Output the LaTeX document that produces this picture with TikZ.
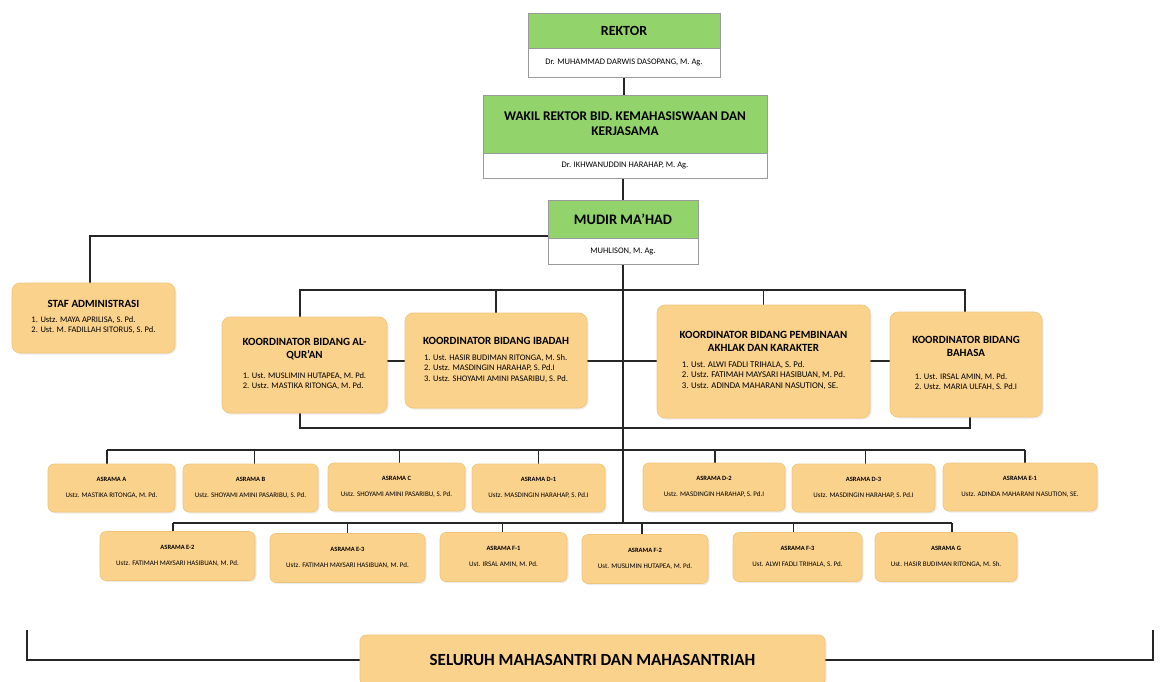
\documentclass[tikz,border=0pt]{standalone}
\usepackage{fontspec}
\setmainfont{Carlito}
\usetikzlibrary{shadows}
\definecolor{hdrgreen}{HTML}{92D36C}
\definecolor{boxorange}{HTML}{FAD28C}
\definecolor{boxedge}{HTML}{F1C579}
\definecolor{linecol}{HTML}{262626}
\definecolor{edgegray}{HTML}{9A9A9A}
\newcommand\fsz[1]{\fontsize{#1}{1.22\dimexpr#1pt\relax}\selectfont}
\pgfdeclarelayer{bottom}
\pgfdeclarelayer{background}
\pgfsetlayers{bottom,background,main}
\begin{document}
\begin{tikzpicture}[x=1pt,y=-1pt,
  greenhead/.style={draw=edgegray, line width=0.8pt, fill=hdrgreen, inner sep=2pt, align=center, font=\bfseries},
  whitesub/.style={draw=edgegray, line width=0.8pt, fill=white, inner sep=2pt, align=center},
  obox/.style={draw=boxedge, line width=0.6pt, fill=boxorange, rounded corners=8pt, inner sep=3pt, align=center,
     drop shadow={opacity=0.15, shadow xshift=1.5pt, shadow yshift=-1.5pt}},
  abox/.style={obox, rounded corners=6pt, minimum height=48pt},
  bbox/.style={obox, rounded corners=6pt, minimum height=49pt},
  conn/.style={draw=linecol, line width=1.6pt},
]
\useasboundingbox (0,0) rectangle (1162,682);
\begin{pgfonlayer}{bottom}
\fill[white] (0,0) rectangle (1162,682);
\end{pgfonlayer}

% top chain
\node[greenhead, minimum width=192pt, minimum height=35pt] (rektorG) at (624,30.5) {\fsz{14}REKTOR};
\node[whitesub, minimum width=192pt, minimum height=29pt] (rektorW) at (624,62.5) {\fsz{8.5}Dr. MUHAMMAD DARWIS DASOPANG, M. Ag.};
\node[greenhead, minimum width=284pt, minimum height=58pt] (wakilG) at (625,124) {\fsz{13.3}WAKIL REKTOR BID. KEMAHASISWAAN DAN\\[3pt]\fsz{13.3}KERJASAMA};
\node[whitesub, minimum width=284pt, minimum height=25pt] (wakilW) at (625,165.5) {\fsz{8.5}Dr. IKHWANUDDIN HARAHAP, M. Ag.};
\node[greenhead, minimum width=150pt, minimum height=38pt] (mudirG) at (623,219) {\fsz{14.5}MUDIR MA'HAD};
\node[whitesub, minimum width=150pt, minimum height=26pt] (mudirW) at (623,251) {\fsz{8.5}MUHLISON, M. Ag.};

% staf
\node[obox, minimum width=163pt, minimum height=70pt] (staf) at (93.5,318)
  {{\bfseries\fsz{11}STAF ADMINISTRASI}\\[6pt]
   \fsz{8.5}\begin{tabular}{@{}l@{}}1. Ustz. MAYA APRILISA, S. Pd.\\2. Ust. M. FADILLAH SITORUS, S. Pd.\end{tabular}};

% koordinator
\node[obox, minimum width=165pt, minimum height=96pt] (quran) at (304.5,365)
  {{\bfseries\fsz{11}KOORDINATOR BIDANG AL-}\\[1pt]{\bfseries\fsz{11}QUR'AN}\\[10pt]
   \fsz{8.5}\begin{tabular}{@{}l@{}}1. Ust. MUSLIMIN HUTAPEA, M. Pd.\\2. Ustz. MASTIKA RITONGA, M. Pd.\end{tabular}};
\node[obox, minimum width=182pt, minimum height=95pt] (ibadah) at (496,360.5)
  {{\bfseries\fsz{11}KOORDINATOR BIDANG IBADAH}\\[8pt]
   \fsz{8.5}\begin{tabular}{@{}l@{}}1. Ust. HASIR BUDIMAN RITONGA, M. Sh.\\2. Ustz. MASDINGIN HARAHAP, S. Pd.I\\3. Ustz. SHOYAMI AMINI PASARIBU, S. Pd.\end{tabular}};
\node[obox, minimum width=213pt, minimum height=113pt] (akhlak) at (763.5,361.5)
  {{\bfseries\fsz{11}KOORDINATOR BIDANG PEMBINAAN}\\[1pt]{\bfseries\fsz{11}AKHLAK DAN KARAKTER}\\[7pt]
   \fsz{8.8}\begin{tabular}{@{}l@{}}1. Ust. ALWI FADLI TRIHALA, S. Pd.\\2. Ustz. FATIMAH MAYSARI HASIBUAN, M. Pd.\\3. Ustz. ADINDA MAHARANI NASUTION, SE.\end{tabular}};
\node[obox, minimum width=152pt, minimum height=105pt] (bahasa) at (966,364.5)
  {{\bfseries\fsz{11}KOORDINATOR BIDANG}\\[1pt]{\bfseries\fsz{11}BAHASA}\\[14pt]
   \fsz{8.5}\begin{tabular}{@{}l@{}}1. Ust. IRSAL AMIN, M. Pd.\\2. Ustz. MARIA ULFAH, S. Pd.I\end{tabular}};

% asrama row 1
\node[abox, minimum width=127pt] (aA) at (111.5,488) {{\bfseries\fsz{6.5}ASRAMA A}\\[4pt]\fsz{7}Ustz. MASTIKA RITONGA, M. Pd.};
\node[abox, minimum width=135pt] (aB) at (250.5,488) {{\bfseries\fsz{6.5}ASRAMA B}\\[4pt]\fsz{7}Ustz. SHOYAMI AMINI PASARIBU, S. Pd.};
\node[abox, minimum width=137pt] (aC) at (396.5,487) {{\bfseries\fsz{6.5}ASRAMA C}\\[4pt]\fsz{7}Ustz. SHOYAMI AMINI PASARIBU, S. Pd.};
\node[abox, minimum width=133pt] (aD1) at (538.5,488) {{\bfseries\fsz{6.5}ASRAMA D-1}\\[4pt]\fsz{7}Ustz. MASDINGIN HARAHAP, S. Pd.I};
\node[abox, minimum width=142pt] (aD2) at (714,487) {{\bfseries\fsz{6.5}ASRAMA D-2}\\[4pt]\fsz{7}Ustz. MASDINGIN HARAHAP, S. Pd.I};
\node[abox, minimum width=143pt] (aD3) at (863.5,488) {{\bfseries\fsz{6.5}ASRAMA D-3}\\[4pt]\fsz{7}Ustz. MASDINGIN HARAHAP, S. Pd.I};
\node[abox, minimum width=154pt] (aE1) at (1020,487) {{\bfseries\fsz{6.5}ASRAMA E-1}\\[4pt]\fsz{7}Ustz. ADINDA MAHARANI NASUTION, SE.};

% asrama row 2
\node[bbox, minimum width=155pt] (aE2) at (177.5,556) {{\bfseries\fsz{6.5}ASRAMA E-2}\\[4pt]\fsz{7}Ustz. FATIMAH MAYSARI HASIBUAN, M. Pd.};
\node[bbox, minimum width=155pt] (aE3) at (347.5,558) {{\bfseries\fsz{6.5}ASRAMA E-3}\\[4pt]\fsz{7}Ustz. FATIMAH MAYSARI HASIBUAN, M. Pd.};
\node[bbox, minimum width=127pt] (aF1) at (503.5,557) {{\bfseries\fsz{6.5}ASRAMA F-1}\\[4pt]\fsz{7}Ust. IRSAL AMIN, M. Pd.};
\node[bbox, minimum width=126pt] (aF2) at (645,559) {{\bfseries\fsz{6.5}ASRAMA F-2}\\[4pt]\fsz{7}Ust. MUSLIMIN HUTAPEA, M. Pd.};
\node[bbox, minimum width=129pt] (aF3) at (797.5,557) {{\bfseries\fsz{6.5}ASRAMA F-3}\\[4pt]\fsz{7}Ust. ALWI FADLI TRIHALA, S. Pd.};
\node[bbox, minimum width=142pt] (aG) at (946,557) {{\bfseries\fsz{6.5}ASRAMA G}\\[4pt]\fsz{7}Ust. HASIR BUDIMAN RITONGA, M. Sh.};

% bottom
\node[obox, rounded corners=6pt, minimum width=465pt, minimum height=50pt] (semua) at (592.5,660) {\bfseries\fsz{17}SELURUH MAHASANTRI DAN MAHASANTRIAH};

% coordinates
\coordinate (stafturn) at (90,236);
\coordinate (kL) at (300,290);
\coordinate (kR) at (965,290);
\coordinate (bL) at (300,428);
\coordinate (bR) at (970,428);
\coordinate (spineEnd) at (623,523);
\coordinate (r1L) at (107,450);
\coordinate (r1R) at (1025,450);
\coordinate (r2L) at (173,523);
\coordinate (r2R) at (952,523);
\coordinate (botL) at (27,630);
\coordinate (botR) at (1153,630);

\begin{pgfonlayer}{background}
\draw[conn] (rektorW.south) -- (rektorW.south |- wakilG.north);
\draw[conn] (mudirG.north) -- (mudirG.north |- wakilW.south);
\draw[conn] (mudirW.south) -- (spineEnd);
\draw[conn] (mudirG.west |- stafturn) -- (stafturn) -- (stafturn |- staf.north);
\draw[conn] (kL |- quran.north) -- (kL) -- (kR) -- (kR |- bahasa.north);
\draw[conn] (ibadah.north) -- (ibadah.north |- kL);
\draw[conn] (akhlak.north) -- (akhlak.north |- kL);
\draw[conn] (quran.east |- 0,361) -- (ibadah.west |- 0,361);
\draw[conn] (ibadah.east |- 0,361) -- (akhlak.west |- 0,361);
\draw[conn] (akhlak.east |- 0,361) -- (bahasa.west |- 0,361);
\draw[conn] (bL |- quran.south) -- (bL) -- (bR) -- (bR |- bahasa.south);
\draw[conn] (r1L) -- (r1R);
\draw[conn] (r1L) -- (r1L |- aA.north);
\draw[conn] (r1R) -- (r1R |- aE1.north);
\foreach \n/\dx in {aB/4,aC/3,aD1/0,aD2/1,aD3/2} \draw[conn] ([xshift=\dx pt]\n.north) -- ([xshift=\dx pt]\n.north |- r1L);
\draw[conn] (r2L) -- (r2R);
\draw[conn] (r2L) -- (r2L |- aE2.north);
\draw[conn] (r2R) -- (r2R |- aG.north);
\foreach \n/\dx in {aE3/0,aF1/-1,aF2/-3,aF3/-4} \draw[conn] ([xshift=\dx pt]\n.north) -- ([xshift=\dx pt]\n.north |- r2L);
\draw[conn] (botL) -- (botL |- semua.west) -- (semua.west);
\draw[conn] (semua.east) -- (botR |- semua.east) -- (botR);
\end{pgfonlayer}
\end{tikzpicture}
\end{document}
